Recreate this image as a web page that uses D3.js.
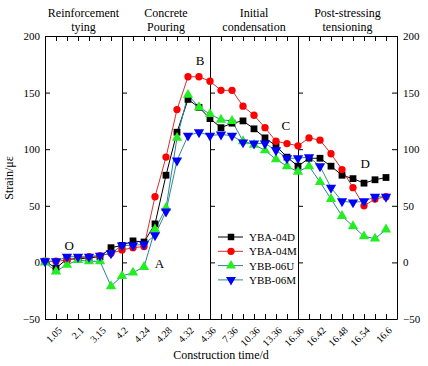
<!DOCTYPE html>
<html><head><meta charset="utf-8">
<script src="https://cdn.jsdelivr.net/npm/d3@7"></script>
<style>
body{margin:0;background:#fff;}
svg text{font-family:"Liberation Serif","DejaVu Serif",serif;font-weight:normal;}
</style></head>
<body><svg id="c" width="428" height="366"></svg>
<script>
// ---- data ----
const xLabels = ["1.05","2.1","3.15","4.2","4.24","4.28","4.32","4.36","7.36","10.36","13.36","16.36","16.42","16.48","16.54","16.6"];
const xLabelIdx = [1,3,5,7,9,11,13,15,17,19,21,23,25,27,29,31];
const yTicks = [-50,0,50,100,150,200];
const phases = [["Reinforcement","tying"],["Concrete","Pouring"],["Initial","condensation"],["Post-stressing","tensioning"]];
const phaseBounds = [0,7,15,23,32];
const seriesNames = ["YBA-04D","YBA-04M","YBB-06U","YBB-06M"];
const YBA04D = [1,-5,3,3,4,5,13,15,19,18,34,77,115,144,137,127,119,123,125,118,110,103,93,85,92,92,85,77,74,70,73,75];
const YBA04M = [1,1,2,4,5,6,8,11,13,14,58,93,135,164,164,160,152,152,138,130,119,107,105,103,110,108,96,82,66,50,56,58];
const YBB06U = [0,-8,-2,2,1,1,-21,-12,-9,-4,29,48,110,148,137,131,126,125,107,104,99,91,85,80,85,71,56,41,32,23,21,29];
const YBB06M = [1,1,5,5,5,6,8,15,15,16,24,45,90,112,115,112,113,112,106,105,105,99,92,92,93,85,66,54,53,54,58,58];
const annotations = [["O",2.2,11],["A",10.4,-5],["B",14.1,174],["C",21.9,117],["D",29.1,83]];

const seriesData = [YBA04D,YBA04M,YBB06U,YBB06M];
const lineColors = ["#000000","#d03030","#2a7fa0","#2a8f80"];
const markerColors = ["#000000","#ff0000","#22ee22","#0000ff"];
const markerTypes = [d3.symbolSquare,d3.symbolCircle,d3.symbolTriangle,d3.symbolTriangle];

const svg = d3.select("#c");
const L=45,R=397,T=36,B=319;
const x = d3.scaleLinear().domain([0,32]).range([L,R]);
const y = d3.scaleLinear().domain([-50,200]).range([B,T]);
const FF = '"Liberation Serif","DejaVu Serif",serif';

function styleAxis(g){g.attr("font-family",FF);g.selectAll("path,line").attr("stroke","#000").attr("stroke-width",1);g.selectAll("text").attr("fill","#000").style("font-family",FF);}

// x minor ticks bottom & top
svg.append("g").attr("transform",`translate(0,${B})`)
  .call(d3.axisBottom(x).tickValues(d3.range(0,33)).tickSize(-5).tickSizeOuter(0).tickFormat(""))
  .call(styleAxis);
svg.append("g").attr("transform",`translate(0,${T})`)
  .call(d3.axisTop(x).tickValues(d3.range(0,33)).tickSize(-5).tickSizeOuter(0).tickFormat(""))
  .call(styleAxis);
// x labels
const xl = svg.append("g").attr("transform",`translate(0,${B})`)
  .call(d3.axisBottom(x).tickValues(xLabelIdx).tickSize(0).tickFormat((d,i)=>xLabels[i]))
  .call(styleAxis);
xl.select(".domain").remove();
xl.selectAll("text").attr("font-size",10).attr("text-anchor","end")
  .attr("dy",0).attr("y",0)
  .attr("transform","translate(6,12) rotate(-45)");

// y axes
svg.append("g").attr("transform",`translate(${L},0)`)
  .call(d3.axisLeft(y).tickValues(yTicks).tickSize(-5).tickSizeOuter(0).tickPadding(5))
  .call(styleAxis).selectAll("text").attr("font-size",11);
svg.append("g").attr("transform",`translate(${R},0)`)
  .call(d3.axisRight(y).tickValues(yTicks).tickSize(-5).tickSizeOuter(0).tickPadding(6))
  .call(styleAxis).selectAll("text").attr("font-size",11);
// separators
[7,15,23].forEach(v=>{
  svg.append("g").attr("transform",`translate(${x(v)},0)`)
    .call(d3.axisRight(y).tickValues(yTicks).tickSize(5).tickSizeOuter(0).tickFormat(""))
    .call(styleAxis);
});

// phase titles
phases.forEach((p,i)=>{
  const cx=(x(phaseBounds[i])+x(phaseBounds[i+1]))/2;
  svg.append("text").attr("x",cx).attr("y",17).attr("text-anchor","middle").attr("font-size",12).text(p[0]);
  svg.append("text").attr("x",cx).attr("y",31).attr("text-anchor","middle").attr("font-size",12).text(p[1]);
});

// series
const line = d3.line().x((d,i)=>x(i)).y(d=>y(d));
seriesData.forEach((s,k)=>{
  svg.append("path").datum(s).attr("d",line).attr("fill","none").attr("stroke",lineColors[k]).attr("stroke-width",1);
});
seriesData.forEach((s,k)=>{
  const sym = d3.symbol().type(markerTypes[k]).size(k===0?46:k===1?42:46);
  svg.append("g").selectAll("path").data(s).join("path")
    .attr("d",sym)
    .attr("transform",(d,i)=>`translate(${x(i)},${y(d)})${k===3?" rotate(180)":""}`)
    .attr("fill",markerColors[k]);
});

// annotations
annotations.forEach(a=>{
  svg.append("text").attr("x",x(a[1])).attr("y",y(a[2])).attr("text-anchor","middle").attr("font-size",13).text(a[0]);
});

// legend
seriesNames.forEach((n,k)=>{
  const ly=237+k*14.3;
  svg.append("line").attr("x1",218).attr("x2",243).attr("y1",ly).attr("y2",ly).attr("stroke",lineColors[k]);
  svg.append("path").attr("d",d3.symbol().type(markerTypes[k]).size(42)())
    .attr("transform",`translate(231,${ly})${k===3?" rotate(180)":""}`).attr("fill",markerColors[k]);
  svg.append("text").attr("x",249).attr("y",ly+4).attr("font-size",11).text(n);
});

// axis titles
svg.append("text").attr("x",221).attr("y",359).attr("text-anchor","middle").attr("font-size",12).text("Construction time/d");
svg.append("text").attr("transform","translate(13,178) rotate(-90)").attr("text-anchor","middle").attr("font-size",12).text("Strain/με");
</script></body></html>
